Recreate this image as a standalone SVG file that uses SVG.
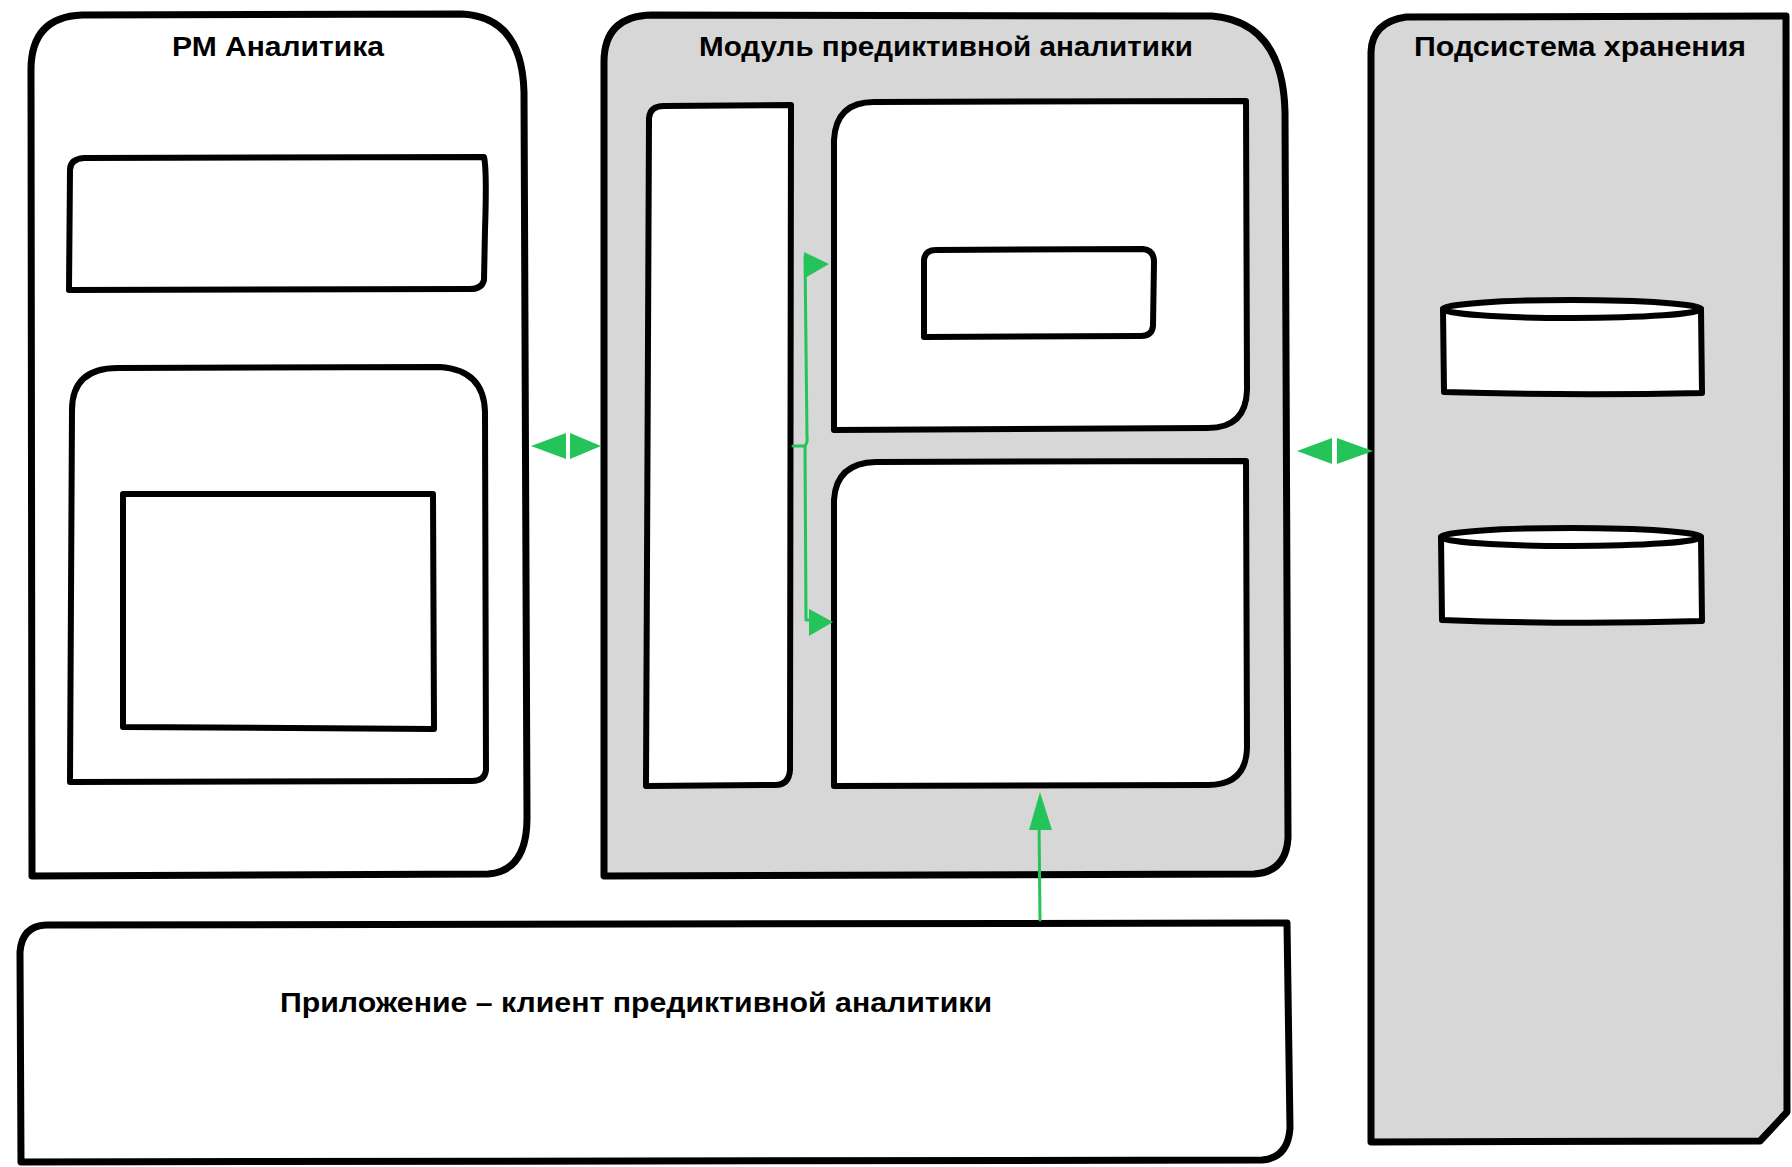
<svg xmlns="http://www.w3.org/2000/svg" width="1792" height="1167" viewBox="0 0 1792 1167">
  <defs>
    <style>
      .frame { stroke: #000; stroke-width: 7; stroke-linejoin: round; stroke-linecap: round; }
      .inner { fill: #fff; stroke: #000; stroke-width: 6; stroke-linejoin: round; stroke-linecap: round; }
      .white { fill: #fff; }
      .grey { fill: #d7d7d7; }
      .title { font-family: "Liberation Sans", Arial, sans-serif; font-weight: bold; font-size: 27px; fill: #000; }
      .link { stroke: #25c45a; stroke-width: 3; fill: none; stroke-linecap: round; stroke-linejoin: round; }
      .head { fill: #25c45a; stroke: none; }
    </style>
  </defs>

  <rect width="1792" height="1167" fill="#fff"/>

  <!-- РМ Аналитика -->
  <g id="rm-analytics">
    <path class="frame white" d="M 31 72 Q 30 17 82 15 L 462 14 Q 522 17 524 92 L 527 818 Q 527 871 488 874 L 32 876 Z"/>
    <text class="title" x="278" y="56" text-anchor="middle" textLength="212" lengthAdjust="spacingAndGlyphs">РМ Аналитика</text>
    <path id="rm-block-top" class="inner" d="M 70 170 Q 70 159 84 158 L 484 157 Q 487 170 485 230 L 484 280 Q 482 289 470 289 L 69 290 Z"/>
    <path id="rm-block-bottom" class="inner" d="M 72 410 Q 72 368 118 368 L 440 367 Q 484 370 485 412 L 486 770 Q 485 781 472 781 L 70 782 Z"/>
    <path id="rm-block-inner" class="inner" d="M 123 494 L 433 494 L 434 729 L 123 727 Z"/>
  </g>

  <!-- Модуль предиктивной аналитики -->
  <g id="predictive-module">
    <path class="frame grey" d="M 604 62 Q 604 16 652 15 L 1212 16 Q 1283 22 1285 112 L 1288 838 Q 1286 872 1254 874 L 604 876 Z"/>
    <text class="title" x="946" y="56" text-anchor="middle" textLength="494" lengthAdjust="spacingAndGlyphs">Модуль предиктивной аналитики</text>
    <path id="module-column" class="inner" d="M 649 118 Q 650 106 664 106 L 791 105 L 790 770 Q 789 785 775 785 L 646 786 Z"/>
    <path id="module-upper" class="inner" d="M 834 140 Q 836 102 874 102 L 1246 101 L 1247 390 Q 1246 428 1208 428 L 834 430 Z"/>
    <path id="module-upper-inner" class="inner" d="M 924 260 Q 925 250 936 250 L 1143 249 Q 1154 250 1154 262 L 1153 326 Q 1152 336 1141 336 L 924 337 Z"/>
    <path id="module-lower" class="inner" d="M 834 500 Q 836 463 876 462 L 1246 461 L 1247 748 Q 1246 785 1208 785 L 834 786 Z"/>
  </g>

  <!-- Подсистема хранения -->
  <g id="storage">
    <path class="frame grey" d="M 1371 52 Q 1372 22 1406 17 L 1786 16 L 1787 1112 L 1760 1141 L 1371 1142 Z"/>
    <text class="title" x="1580" y="56" text-anchor="middle" textLength="332" lengthAdjust="spacingAndGlyphs">Подсистема хранения</text>
    <g id="storage-db-1">
      <path class="inner" d="M 1443 309 L 1444 392 Q 1572 396 1702 393 L 1701 309"/>
      <ellipse class="inner" cx="1572" cy="309" rx="129" ry="9"/>
    </g>
    <g id="storage-db-2">
      <path class="inner" d="M 1441 537 L 1442 620 Q 1572 625 1702 621 L 1701 537"/>
      <ellipse class="inner" cx="1571" cy="537" rx="130" ry="9"/>
    </g>
  </g>

  <!-- Приложение – клиент предиктивной аналитики -->
  <g id="client-app">
    <path class="frame white" d="M 20 952 Q 22 926 46 925 L 1287 923 L 1290 1128 Q 1288 1158 1262 1160 L 21 1162 Z"/>
    <text class="title" x="636" y="1012" text-anchor="middle" textLength="712" lengthAdjust="spacingAndGlyphs">Приложение – клиент предиктивной аналитики</text>
  </g>

  <!-- connectors -->
  <g id="connectors">
    <!-- РМ Аналитика <-> module -->
    <polygon class="head" points="531,446 566,433 566,459"/>
    <polygon class="head" points="570,433 601,446 570,459"/>
    <!-- module <-> storage -->
    <polygon class="head" points="1297,451 1332,438 1332,464"/>
    <polygon class="head" points="1337,438 1373,451 1337,464"/>
    <!-- client -> module -->
    <path class="link" d="M 1040 920 L 1039 820"/>
    <polygon class="head" points="1040,792 1052,830 1029,830"/>
    <!-- column -> upper / lower blocks -->
    <path class="link" d="M 793 446 L 805 446 M 805 446 Q 808 442 807 438 L 805 256 M 805 446 L 806 620 L 812 620"/>
    <polygon class="head" points="804,252 829,264 805,278"/>
    <polygon class="head" points="809,609 833,622 809,636"/>
  </g>
</svg>
